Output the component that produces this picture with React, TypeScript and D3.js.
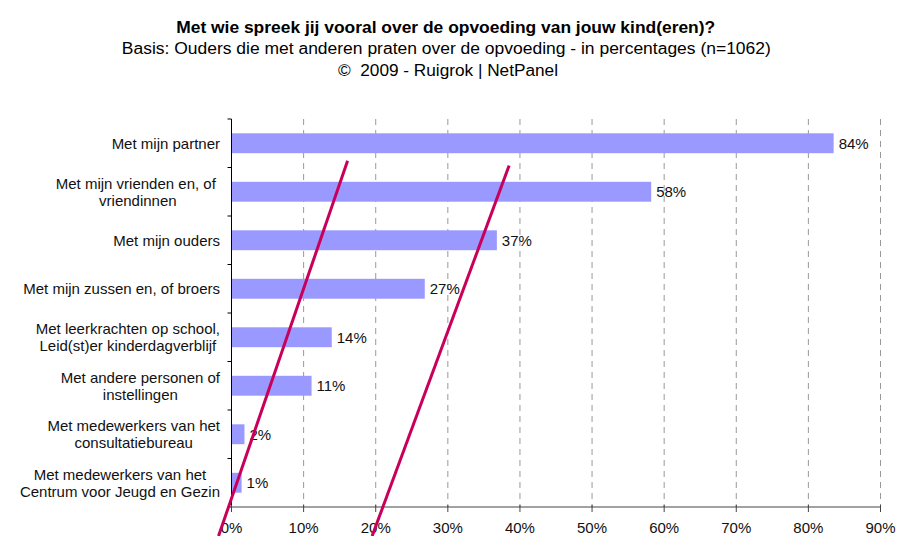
import React, { useMemo } from "react";
import * as d3 from "d3";

const titleText = "Met wie spreek jij vooral over de opvoeding van jouw kind(eren)?";
const subtitleText = "Basis: Ouders die met anderen praten over de opvoeding - in percentages (n=1062)";
const copyrightText = "©  2009 - Ruigrok | NetPanel";

const categories: string[][] = [
  ["Met mijn partner"],
  ["Met mijn vrienden en, of ", "vriendinnen"],
  ["Met mijn ouders"],
  ["Met mijn zussen en, of broers"],
  ["Met leerkrachten op school,", "Leid(st)er kinderdagverblijf"],
  ["Met andere personen of", "instellingen"],
  ["Met medewerkers van het", "consultatiebureau"],
  ["Met medewerkers van het", "Centrum voor Jeugd en Gezin"],
];
const values: number[] = [83.5, 58.2, 36.8, 26.8, 13.9, 11.1, 1.8, 1.4];
const xTicks: number[] = [0, 10, 20, 30, 40, 50, 60, 70, 80, 90];

// hand-drawn annotation strokes: [x in %, y in category-band units]
const strokeA: [number, number][] = [[16.1, 0.86], [-1.8, 8.6]];
const strokeB: [number, number][] = [[38.5, 0.96], [19.5, 8.6]];

const FONT = "'Liberation Sans', Arial, Helvetica, sans-serif";
const W = 904;
const H = 536;
const margin = { left: 231.5, right: 23.5, top: 119, bottom: 29 };
const FS = 15;

export default function App() {
  const x = d3.scaleLinear().domain([0, 90]).range([margin.left, W - margin.right]);
  const y = d3
    .scaleBand<number>()
    .domain(d3.range(categories.length))
    .range([margin.top, H - margin.bottom])
    .paddingInner(0.59)
    .paddingOuter(0.295);
  const yLin = d3.scaleLinear().domain([0, categories.length]).range([margin.top, H - margin.bottom]);
  const bottom = H - margin.bottom;

  const measure = useMemo(() => {
    const ctx = document.createElement("canvas").getContext("2d")!;
    ctx.font = `${FS}px ${FONT}`;
    return (s: string) => ctx.measureText(s).width;
  }, []);

  const labelRight = 220;
  const lineH = 17;
  const line = d3.line<[number, number]>().x((d) => x(d[0])).y((d) => yLin(d[1]));

  return (
    <svg width={W} height={H} style={{ position: "absolute", left: 0, top: 0, background: "#fff" }} fontFamily={FONT}>
      <text x={445.7} y={32.7} textAnchor="middle" fontSize={16.5} fontWeight="bold" textLength={539} lengthAdjust="spacingAndGlyphs">{titleText}</text>
      <text x={446.3} y={54} textAnchor="middle" fontSize={16} textLength={649} lengthAdjust="spacingAndGlyphs">{subtitleText}</text>
      <text x={448} y={75.7} textAnchor="middle" fontSize={16} textLength={220} lengthAdjust="spacingAndGlyphs" style={{ whiteSpace: "pre" }}>{copyrightText}</text>

      {xTicks.slice(1).map((t) => (
        <line key={"g" + t} x1={x(t)} x2={x(t)} y1={margin.top} y2={bottom} stroke="#999" strokeDasharray="6,5" />
      ))}

      {values.map((v, i) => (
        <rect key={"b" + i} x={x(0)} y={y(i)!} width={x(v) - x(0)} height={y.bandwidth()} fill="#9999FF" />
      ))}

      {values.map((v, i) => (
        <text key={"v" + i} x={x(v) + 5} y={y(i)! + y.bandwidth() / 2} dy="0.36em" fontSize={FS} fill="#111">
          {Math.round(v) + "%"}
        </text>
      ))}

      {categories.map((lines, i) => {
        const maxW = Math.max(...lines.map(measure));
        const cx = labelRight - maxW / 2;
        const c = y(i)! + y.bandwidth() / 2;
        const start = c - ((lines.length - 1) * lineH) / 2;
        return (
          <text key={"c" + i} fontSize={FS} fill="#111" textAnchor="middle">
            {lines.map((l, j) => (
              <tspan key={j} x={cx} y={start + j * lineH} dy="0.36em" style={{ whiteSpace: "pre" }}>{l}</tspan>
            ))}
          </text>
        );
      })}

      <line x1={x(0)} x2={x(0)} y1={margin.top} y2={bottom} stroke="#000" />
      {d3.range(categories.length + 1).map((k) => (
        <line key={"yt" + k} x1={x(0) - 4} x2={x(0)} y1={yLin(k)} y2={yLin(k)} stroke="#000" />
      ))}
      <line x1={x(0)} x2={x(90)} y1={bottom} y2={bottom} stroke="#444" />
      {xTicks.map((t) => (
        <g key={"xt" + t}>
          <line x1={x(t)} x2={x(t)} y1={bottom - 2} y2={bottom + 5} stroke="#444" />
          <text x={x(t)} y={bottom + 26} textAnchor="middle" fontSize={FS} fill="#111">{t + "%"}</text>
        </g>
      ))}

      <path d={line(strokeA)!} stroke="#C8005A" strokeWidth={3} fill="none" />
      <path d={line(strokeB)!} stroke="#C8005A" strokeWidth={3} fill="none" />
    </svg>
  );
}
